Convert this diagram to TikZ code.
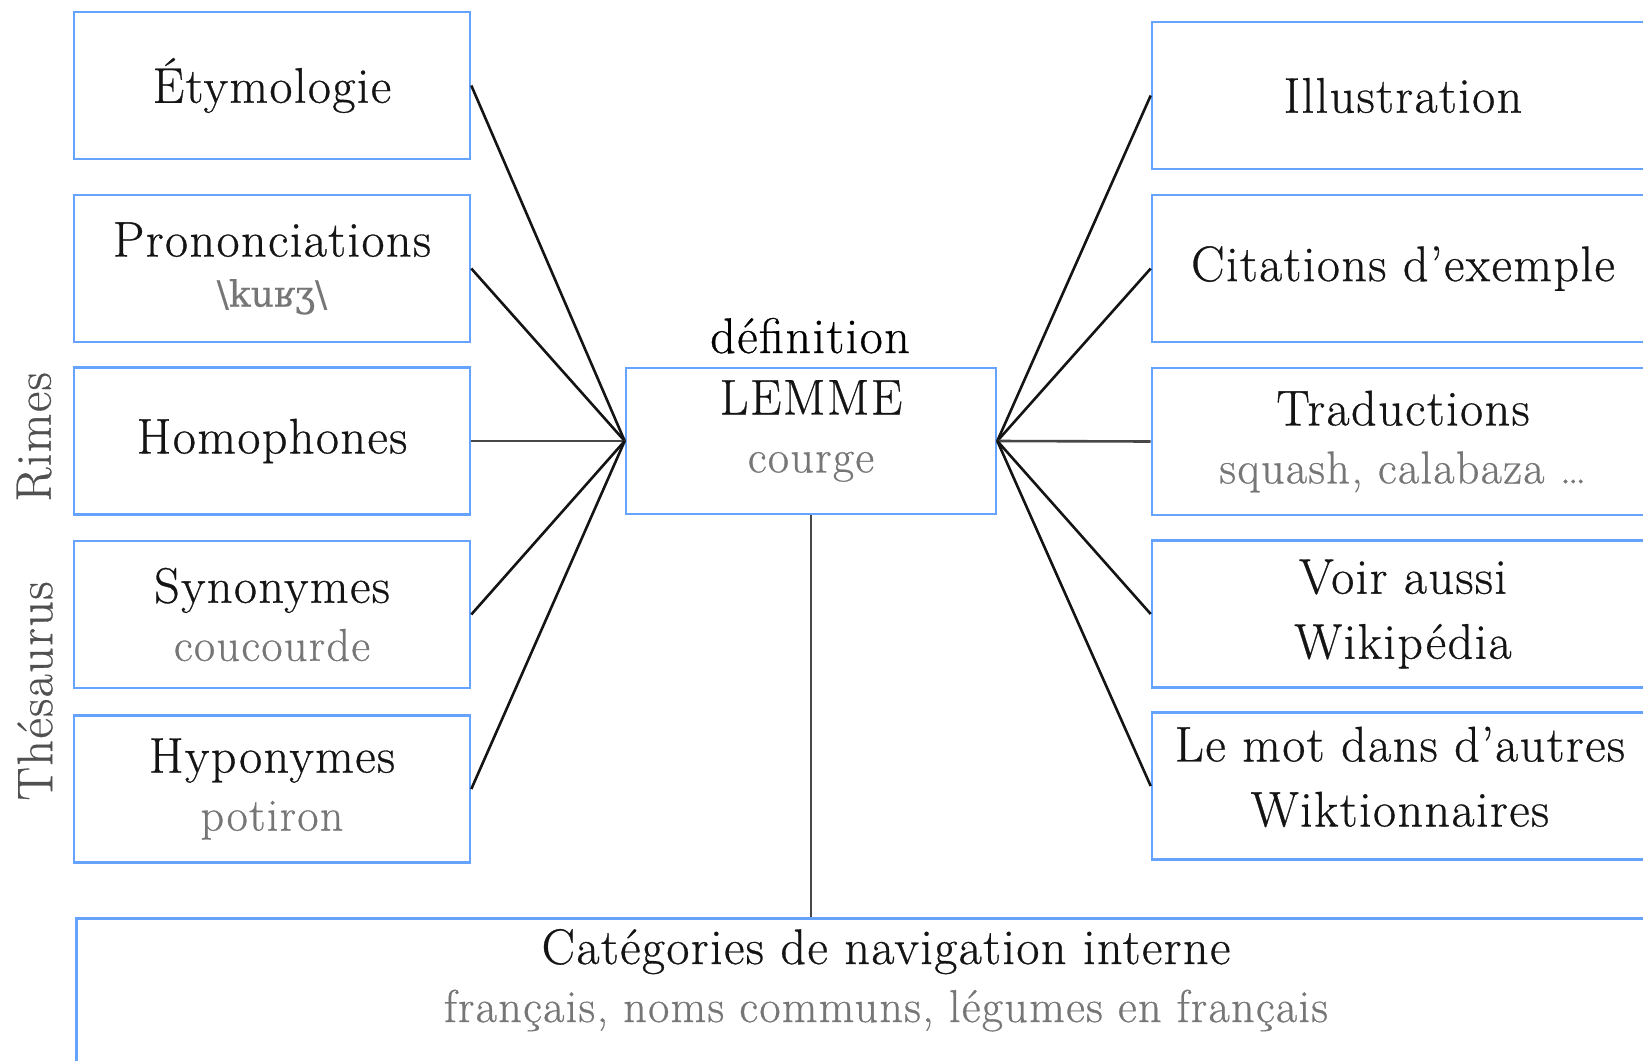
\documentclass[tikz,border=0pt]{standalone}
\usepackage{fontspec}
\setmainfont{Latin Modern Roman}[LetterSpace=3,FakeBold=0.6]
\newfontfamily\ipafont{DejaVu Serif}[FakeBold=0.3]
\definecolor{boxblue}{RGB}{102,163,255}
\definecolor{ink}{RGB}{20,20,20}
\definecolor{subgray}{RGB}{118,118,118}
\definecolor{sidegray}{RGB}{80,80,80}
\newcommand\mainfs{\fontsize{50}{58}\selectfont}
\newcommand\subt[1]{{\color{subgray}\fontsize{46}{54}\selectfont #1}}
\begin{document}
\begin{tikzpicture}[x=1pt,y=-1pt,
  box/.style={draw=boxblue, line width=2.6pt, rectangle, minimum height=147pt,
    align=center, inner sep=0pt, font=\mainfs, text=ink},
  lbox/.style={box, minimum width=396pt},
  rbox/.style={box, minimum width=502pt},
  txt/.style={font=\mainfs, text=ink, align=center, inner sep=0pt},
  link/.style={draw=black!92, line width=2.6pt},
  flat/.style={draw=black!72, line width=2.6pt},
  side/.style={font=\mainfs, text=sidegray, rotate=90}]
\clip (0,0) rectangle (1643,1060);
\fill[white] (0,0) rectangle (1643,1060);

% left column
\node[lbox] (etym) at (272,85.5) {Étymologie};
\node[lbox] (pron) at (272,268.5) {Prononciations\\[-8pt]{\color{subgray}\ipafont\fontsize{36}{42}\selectfont \textbackslash kuʁʒ\textbackslash}};
\node[lbox] (homo) at (272,441) {Homophones};
\node[lbox] (syno) at (272,614.5) {Synonymes\\\subt{coucourde}};
\node[lbox] (hypo) at (272,789) {Hyponymes\\\subt{potiron}};

\node[side] (rimes) at (34,437) {Rimes};
\node[side] (thes) at (35,691) {Thésaurus};

% centre
\node[box, minimum width=370pt, minimum height=146pt] (lemma) at (811,441) {};
\node[txt] (lemmatxt) at (811,431) {LEMME\\\subt{courge}};
\node[font=\mainfs, text=black, anchor=base] (def) at (810,353) {définition};

% right column
\node[rbox] (illu) at (1403,95.5) {Illustration};
\node[rbox] (cita) at (1403,268.5) {Citations d’exemple};
\node[rbox] (trad) at (1403,441.5) {Traductions\\\subt{squash, calabaza …}};
\node[rbox] (voir) at (1403,614) {Voir aussi\\[7pt]Wikipédia};
\node[rbox] (autr) at (1403,786) {};
\node[txt] (autrtxt) at (1400,777) {Le mot dans d’autres\\[7pt]Wiktionnaires};

% bottom
\node[draw=boxblue, line width=2.6pt, rectangle, minimum width=1622pt, minimum height=200pt, anchor=north west, inner sep=0pt] (cat) at (75,917) {};
\node[txt, anchor=base] (cattxt) at (886,1022) {Catégories de navigation interne\\\subt{français, noms communs, légumes en français}};

% connectors
\draw[link] (etym.east) -- (lemma.west);
\draw[link] (pron.east) -- (lemma.west);
\draw[flat] (homo.east) -- (lemma.west);
\draw[link] (syno.east) -- (lemma.west);
\draw[link] (hypo.east) -- (lemma.west);
\draw[link] (illu.west) -- (lemma.east);
\draw[link] (cita.west) -- (lemma.east);
\draw[flat] (trad.west) -- (lemma.east);
\draw[link] (voir.west) -- (lemma.east);
\draw[link] (autr.west) -- (lemma.east);
\draw[flat] (lemma.south) -- (lemma.south |- cat.north);
\end{tikzpicture}
\end{document}
